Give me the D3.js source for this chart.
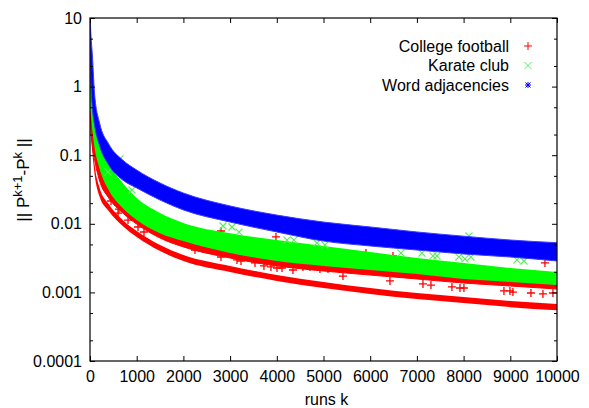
<!DOCTYPE html>
<html>
<head>
<meta charset="utf-8">
<script src="https://cdn.jsdelivr.net/npm/d3@7/dist/d3.min.js"></script>
<style>
  body { margin: 0; background: #fff; }
  svg { display: block; font-family: "Liberation Sans", Arial, Helvetica, sans-serif; }
</style>
</head>
<body>
<div class="chart"></div>
<script>
var kGrid = [1, 20, 50, 100, 200, 400, 700, 1000, 1500, 2000, 3000, 4000, 5000, 6000, 7000, 8000, 9000, 10000];

// College football: an upper band (hidden under green) and a lower band
var footballTop = [7.15, 2.44, 0.638, 0.197, 0.1007, 0.0465, 0.0238, 0.0149, 0.0093, 0.0069, 0.00444, 0.00339, 0.00287, 0.00251, 0.00219, 0.00185, 0.00168, 0.00152];
var footballMid = [0.456, 0.233, 0.141, 0.0851, 0.0435, 0.0238, 0.0144, 0.0099, 0.0062, 0.0046, 0.00317, 0.00243, 0.00205, 0.00179, 0.00157, 0.00137, 0.00124, 0.00112];
var footballLowTop = [0.638, 0.326, 0.167, 0.072, 0.0344, 0.0194, 0.0114, 0.00785, 0.00491, 0.00351, 0.00243, 0.00179, 0.00142, 0.00116, 0.00098, 0.000857, 0.000749, 0.000678];
var footballLowBot = [0.385, 0.197, 0.111, 0.0515, 0.0254, 0.0154, 0.0093, 0.0064, 0.0040, 0.00287, 0.00198, 0.00147, 0.00116, 0.00095, 0.00080, 0.00070, 0.00061, 0.00055];

// Karate club band
var karateTop = [1.25, 1.055, 0.754, 0.348, 0.167, 0.0769, 0.0393, 0.0238, 0.0144, 0.0103, 0.0073, 0.0058, 0.00475, 0.00388, 0.00317, 0.00268, 0.00227, 0.00198];
var karateBot = [0.456, 0.385, 0.233, 0.127, 0.0651, 0.0311, 0.0170, 0.0114, 0.0073, 0.0056, 0.00375, 0.00287, 0.00243, 0.00212, 0.00185, 0.00157, 0.00142, 0.00128];

// Word adjacencies band
var wordTop = [10, 5.65, 2.89, 0.754, 0.305, 0.146, 0.0851, 0.0608, 0.0393, 0.0281, 0.0182, 0.0134, 0.0106, 0.0090, 0.0076, 0.0066, 0.0058, 0.0053];
var wordBot = [2.44, 1.055, 0.488, 0.267, 0.141, 0.072, 0.0435, 0.0333, 0.0222, 0.0159, 0.0106, 0.0076, 0.0056, 0.00475, 0.00415, 0.00363, 0.00328, 0.00287];

// single points that stand out of the bands [k, value]
var footballPoints = [
    [450, 0.0215], [600, 0.01435], [621, 0.0164], [814, 0.01135], [1028, 0.00898], [1156, 0.00759],
    [1434, 0.00759], [1649, 0.00687], [1970, 0.00543], [2248, 0.00415], [2633, 0.00415], [2805, 0.00785],
    [2805, 0.00328], [3040, 0.00375], [3147, 0.00297], [3233, 0.00287], [3426, 0.00328], [3533, 0.00269],
    [3725, 0.00243], [3875, 0.00235], [3982, 0.00643], [4004, 0.00227], [4111, 0.00227], [4346, 0.00212],
    [4560, 0.00235], [4710, 0.00235], [4924, 0.00219], [5096, 0.00219], [5417, 0.00173], [5909, 0.00375],
    [6423, 0.00147], [6487, 0.0034], [7130, 0.00133], [7301, 0.00128], [7750, 0.0012], [7922, 0.00116],
    [8007, 0.00116], [8864, 0.00105], [8992, 0.00105], [9056, 0.00101], [9442, 0.00098], [9699, 0.00095],
    [9742, 0.00269], [9913, 0.00098]
];
var karatePoints = [
    [385, 0.0569], [642, 0.0881], [899, 0.0311], [2848, 0.00929], [3040, 0.00898], [3190, 0.00759],
    [4218, 0.0058], [4368, 0.0058], [4860, 0.00525], [5031, 0.00491], [6659, 0.00375], [7108, 0.00375],
    [7344, 0.0034], [7430, 0.0034], [7900, 0.00328], [8029, 0.00307], [8115, 0.00664], [8157, 0.00328],
    [9142, 0.00297], [9292, 0.00287]
];

var xTicks = [0, 1000, 2000, 3000, 4000, 5000, 6000, 7000, 8000, 9000, 10000];
var yTicks = [0.0001, 0.001, 0.01, 0.1, 1, 10];
var yTickLabels = ["0.0001", "0.001", "0.01", "0.1", "1", "10"];
var yMinorTicks = [0.0002, 0.0005, 0.002, 0.005, 0.02, 0.05, 0.2, 0.5, 2, 5];

var seriesNames = ["College football", "Karate club", "Word adjacencies"];
var seriesColors = ["#ff0000", "#00ff00", "#0000ff"];
var crossColor = "#55ee55";

var width = 589, height = 408;
var margin = { top: 18, right: 32, bottom: 47, left: 90 };
var plotW = width - margin.left - margin.right,
    plotH = height - margin.top - margin.bottom;

var svg = d3.select(".chart").append("svg")
    .attr("width", width)
    .attr("height", height);

var x = d3.scaleLinear().domain([0, 10000]).range([0, plotW]);
var y = d3.scaleLog().domain([0.0001, 10]).range([plotH, 0]);

var g = svg.append("g")
    .attr("transform", "translate(" + margin.left + "," + margin.top + ")");

g.append("clipPath").attr("id", "clip")
    .append("rect").attr("width", plotW).attr("height", plotH);

var plot = g.append("g").attr("clip-path", "url(#clip)");

function band(top, bot) {
    return d3.area()
        .x(function (d, i) { return x(kGrid[i]); })
        .y0(function (d, i) { return y(bot[i]); })
        .y1(function (d, i) { return y(top[i]); })
        .curve(d3.curveMonotoneX)(kGrid);
}

// marker shapes as in gnuplot
var plus = "M-4,0H4M0,-4V4";
var cross = "M-3.5,-3.5L3.5,3.5M-3.5,3.5L3.5,-3.5";
var star = "M-3,0H3M0,-3V3M-2.5,-2.5L2.5,2.5M-2.5,2.5L2.5,-2.5";

// red first, then green, then blue (same order as the plot file)
plot.append("path").attr("d", band(footballTop, footballMid)).attr("fill", seriesColors[0])
    .attr("stroke", seriesColors[0]).attr("stroke-width", 1);
plot.append("path").attr("d", band(footballLowTop, footballLowBot)).attr("fill", seriesColors[0]);
plot.selectAll(".fb").data(footballPoints).enter().append("path")
    .attr("class", "fb")
    .attr("transform", function (d) { return "translate(" + x(d[0]) + "," + y(d[1]) + ")"; })
    .attr("d", plus)
    .attr("stroke", seriesColors[0])
    .attr("stroke-width", 1.3);

plot.append("path").attr("d", band(karateTop, karateBot)).attr("fill", seriesColors[1]);
plot.selectAll(".kc").data(karatePoints).enter().append("path")
    .attr("class", "kc")
    .attr("transform", function (d) { return "translate(" + x(d[0]) + "," + y(d[1]) + ")"; })
    .attr("d", cross)
    .attr("stroke", crossColor)
    .attr("stroke-width", 1.1);

plot.append("path").attr("d", band(wordTop, wordBot)).attr("fill", seriesColors[2])
    .attr("stroke", "#3a3aff").attr("stroke-width", 1);

// axes, ticks inward on all four sides
function styleAxis(sel) {
    sel.select(".domain").remove();
    sel.selectAll(".tick line").attr("stroke", "#000");
    sel.selectAll("text").attr("font-size", 16).attr("fill", "#000")
        .attr("font-family", "'Liberation Sans', Arial, Helvetica, sans-serif");
}

g.append("g").attr("transform", "translate(0," + plotH + ")")
    .call(d3.axisBottom(x).tickValues(xTicks).tickFormat(d3.format("d")).tickSize(-5).tickPadding(10))
    .call(styleAxis);
g.append("g")
    .call(d3.axisTop(x).tickValues(xTicks).tickFormat("").tickSize(-5))
    .call(styleAxis);

g.append("g")
    .call(d3.axisLeft(y).tickValues(yTicks).tickFormat(function (d, i) { return yTickLabels[i]; })
        .tickSize(-5).tickPadding(8))
    .call(styleAxis);
g.append("g")
    .call(d3.axisLeft(y).tickValues(yMinorTicks).tickFormat("").tickSize(-3))
    .call(styleAxis);
g.append("g").attr("transform", "translate(" + plotW + ",0)")
    .call(d3.axisRight(y).tickValues(yTicks).tickFormat("").tickSize(-5))
    .call(styleAxis);
g.append("g").attr("transform", "translate(" + plotW + ",0)")
    .call(d3.axisRight(y).tickValues(yMinorTicks).tickFormat("").tickSize(-3))
    .call(styleAxis);

g.append("rect")
    .attr("width", plotW).attr("height", plotH)
    .attr("fill", "none").attr("stroke", "#000").attr("stroke-width", 1.2);

// axis titles
svg.append("text")
    .attr("x", margin.left + plotW / 2 + 3)
    .attr("y", 405)
    .attr("text-anchor", "middle")
    .attr("font-size", 16)
    .text("runs k");

var ylab = svg.append("text")
    .attr("transform", "translate(29,180) rotate(-90)")
    .attr("text-anchor", "middle")
    .attr("font-size", 17);
ylab.append("tspan").text("|| P");
ylab.append("tspan").attr("dy", -7).attr("font-size", 13).text("k+1");
ylab.append("tspan").attr("dy", 7).text("-P");
ylab.append("tspan").attr("dy", -7).attr("font-size", 13).text("k");
ylab.append("tspan").attr("dy", 7).text(" ||");

// legend
var legendMarks = [plus, cross, star];
var legend = svg.append("g");
seriesNames.forEach(function (name, i) {
    var ly = 46 + i * 19.5;
    legend.append("text")
        .attr("x", 509).attr("y", ly).attr("dy", "0.35em")
        .attr("text-anchor", "end")
        .attr("font-size", 16)
        .text(name);
    legend.append("path")
        .attr("transform", "translate(528," + ly + ")")
        .attr("d", legendMarks[i])
        .attr("stroke", i === 1 ? crossColor : seriesColors[i])
        .attr("stroke-width", 1)
        .attr("fill", "none");
});
</script>
</body>
</html>
